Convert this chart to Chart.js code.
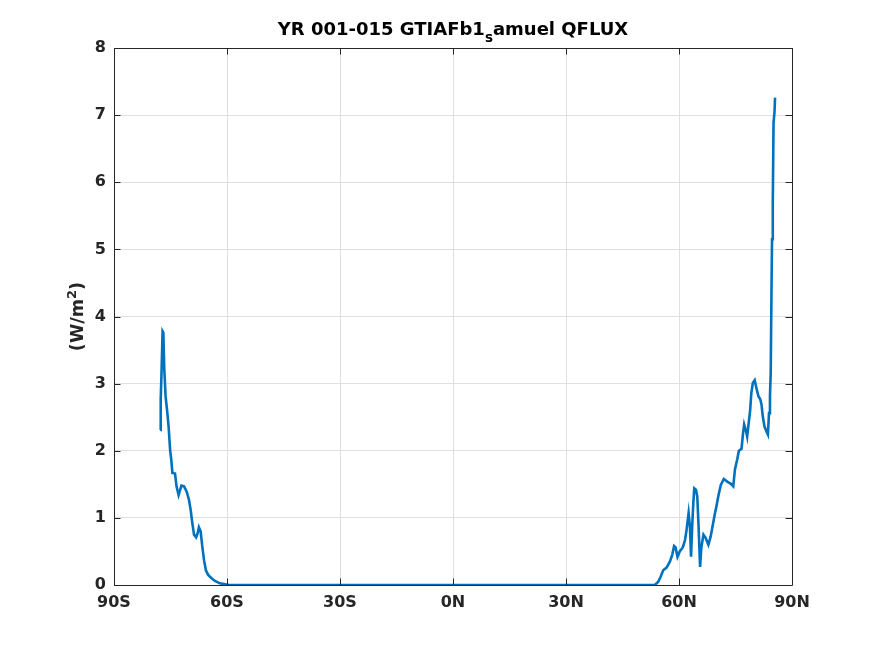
<!DOCTYPE html>
<html>
<head>
<meta charset="utf-8">
<script src="https://cdn.jsdelivr.net/npm/chart.js@4/dist/chart.umd.min.js"></script>
<style>
html,body{margin:0;padding:0;background:#fff;}
canvas{display:block;}
</style>
</head>
<body>
<canvas id="c" width="875" height="656"></canvas>
<script>
const latitudes = [
  -77.75,-77.6,-77.35,-77.1,-76.9,-76.65,-76.3,-75.85,-75.5,-75.1,-74.8,-74.5,-73.8,-73.4,-72.85,-72.1,-71.4,-70.7,-70.1,-69.65,-69.2,-68.75,-68.2,-67.8,-67.45,-67.0,-66.55,-66.1,-65.6,-65.0,-64.1,-63.2,-61.9,-60.5,-59.5,
  53.6,54.5,55.1,55.8,56.7,57.6,58.2,58.7,59.1,59.6,60.2,61.0,61.6,62.0,62.55,62.9,63.2,63.5,63.8,64.05,64.5,64.85,65.2,65.6,65.95,66.5,67.1,67.8,68.4,68.9,69.45,70.0,70.5,71.1,71.9,72.8,73.7,74.4,74.85,75.45,75.9,76.6,77.0,77.3,77.8,78.1,78.5,78.9,79.2,79.6,80.1,80.65,81.1,81.55,81.9,82.25,82.7,83.2,83.6,83.9,84.15,84.35,84.55,84.7,84.9,85.1,85.35,85.5
];
const qflux = [
  2.31,2.76,3.23,3.78,3.76,3.21,2.81,2.57,2.36,2.01,1.87,1.67,1.66,1.47,1.34,1.48,1.47,1.39,1.27,1.12,0.92,0.75,0.71,0.77,0.86,0.80,0.57,0.37,0.22,0.15,0.10,0.06,0.025,0.01,0,
  0,0.05,0.12,0.22,0.26,0.35,0.45,0.58,0.56,0.42,0.50,0.56,0.67,0.82,1.07,0.87,0.42,0.87,1.22,1.44,1.42,1.32,0.87,0.27,0.57,0.75,0.70,0.60,0.72,0.87,1.04,1.19,1.34,1.49,1.58,1.54,1.51,1.47,1.72,1.87,2.00,2.03,2.26,2.39,2.29,2.21,2.41,2.61,2.86,3.01,3.05,2.91,2.81,2.77,2.69,2.51,2.36,2.29,2.24,2.56,2.81,3.16,4.35,5.15,5.69,6.89,7.04,7.26
];
const xTickValues = [-90,-60,-30,0,30,60,90];
const xTickLabels = ['90S','60S','30S','0N','30N','60N','90N'];
const yTickLabels = ['0','1','2','3','4','5','6','7','8'];

const FONT = '"DejaVu Sans", sans-serif';
const AXC = '#262626';

const decor = {
  id: 'decor',
  afterDraw(chart) {
    const ctx = chart.ctx;
    const a = chart.chartArea;
    const xs = chart.scales.x, ys = chart.scales.y;
    ctx.save();
    ctx.strokeStyle = AXC;
    ctx.lineWidth = 1;
    ctx.beginPath();
    ctx.rect(Math.round(a.left)+0.5, Math.round(a.top)+0.5, Math.round(a.right-a.left), Math.round(a.bottom-a.top));
    ctx.stroke();
    const tl = 6.5;
    ctx.beginPath();
    xTickValues.forEach(v => {
      const px = Math.round(xs.getPixelForValue(v)) + 0.5;
      ctx.moveTo(px, a.bottom); ctx.lineTo(px, a.bottom - tl);
      ctx.moveTo(px, a.top); ctx.lineTo(px, a.top + tl);
    });
    yTickLabels.forEach((t, i) => {
      const py = Math.round(ys.getPixelForValue(i)) + 0.5;
      ctx.moveTo(a.left, py); ctx.lineTo(a.left + tl, py);
      ctx.moveTo(a.right, py); ctx.lineTo(a.right - tl, py);
    });
    ctx.stroke();
    // title with subscript
    ctx.fillStyle = '#000';
    ctx.textBaseline = 'alphabetic';
    const tf = 'bold 18px ' + FONT, sf = 'bold 13.5px ' + FONT;
    const parts = [['YR 001-015 GTIAFb1', tf, 0], ['s', sf, 7], ['amuel QFLUX', tf, 0]];
    let w = 0;
    parts.forEach(p => { ctx.font = p[1]; w += ctx.measureText(p[0]).width; });
    let x = (a.left + a.right) / 2 - w / 2;
    const base = 35;
    parts.forEach(p => { ctx.font = p[1]; ctx.textAlign = 'left'; ctx.fillText(p[0], x, base + p[2]); x += ctx.measureText(p[0]).width; });
    // y label with superscript
    ctx.fillStyle = AXC;
    ctx.translate(83, (a.top + a.bottom) / 2);
    ctx.rotate(-Math.PI / 2);
    const lf = 'bold 17.6px ' + FONT, pf = 'bold 13px ' + FONT;
    const lp = [['(W/m', lf, 0], ['2', pf, -7.5], [')', lf, 0]];
    w = 0;
    lp.forEach(p => { ctx.font = p[1]; w += ctx.measureText(p[0]).width; });
    x = -w / 2;
    lp.forEach(p => { ctx.font = p[1]; ctx.fillText(p[0], x, p[2]); x += ctx.measureText(p[0]).width; });
    ctx.restore();
  }
};

new Chart(document.getElementById('c'), {
  type: 'scatter',
  data: {
    datasets: [{
      data: latitudes.map((v, i) => ({ x: v, y: qflux[i] })),
      showLine: true,
      borderColor: '#0072BD',
      borderWidth: 2.6,
      pointRadius: 0,
      fill: false,
      tension: 0
    }]
  },
  options: {
    responsive: false,
    animation: false,
    devicePixelRatio: 1,
    layout: { padding: { left: 0, top: 48, right: 83, bottom: 0 } },
    plugins: { legend: { display: false }, tooltip: { enabled: false }, title: { display: false } },
    scales: {
      x: {
        type: 'linear', min: -90, max: 90,
        afterBuildTicks(s) { s.ticks = xTickValues.map(v => ({ value: v })); },
        afterFit(s) { s.height = 71; },
        ticks: {
          callback: (v) => xTickLabels[xTickValues.indexOf(v)],
          color: AXC, font: { family: FONT, size: 16, weight: 'bold' }, padding: 8, maxRotation: 0, autoSkip: false
        },
        grid: { color: '#dfdfdf', drawTicks: false, lineWidth: 1 },
        border: { display: false }
      },
      y: {
        type: 'linear', min: 0, max: 8,
        afterBuildTicks(s) { s.ticks = yTickLabels.map((t, i) => ({ value: i })); },
        afterFit(s) { s.width = 114; },
        ticks: {
          callback: (v) => yTickLabels[v],
          color: AXC, font: { family: FONT, size: 16, weight: 'bold' }, padding: 8
        },
        grid: { color: '#dfdfdf', drawTicks: false, lineWidth: 1 },
        border: { display: false }
      }
    }
  },
  plugins: [decor]
});
</script>
</body>
</html>
